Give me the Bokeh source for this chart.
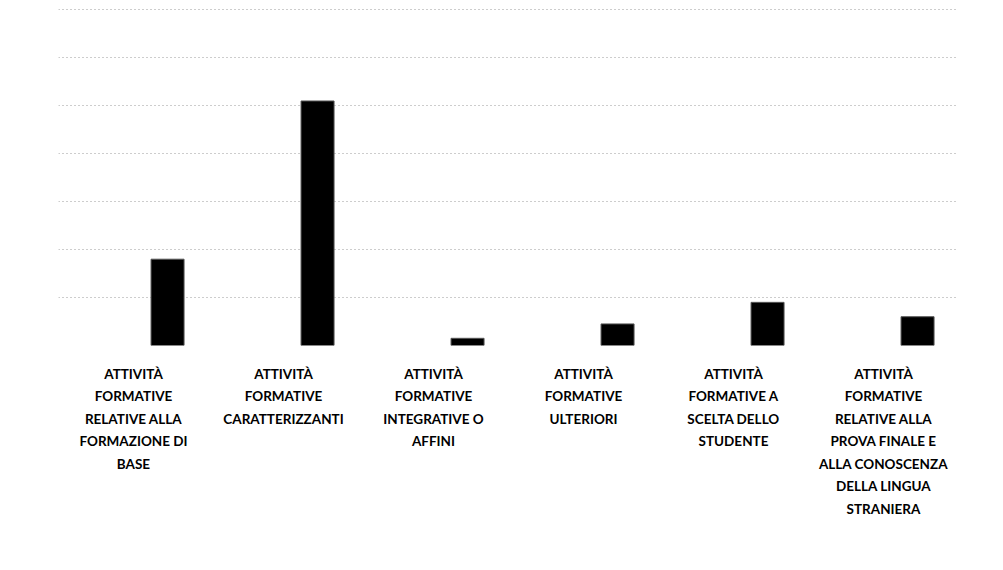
from bokeh.plotting import figure
from bokeh.models import ColumnDataSource, FactorRange, Range1d, SingleIntervalTicker
from bokeh.transform import dodge
from bokeh.embed import file_html
from bokeh.resources import INLINE

categories = [
    "ATTIVITÀ FORMATIVE RELATIVE ALLA FORMAZIONE DI BASE",
    "ATTIVITÀ FORMATIVE CARATTERIZZANTI",
    "ATTIVITÀ FORMATIVE INTEGRATIVE O AFFINI",
    "ATTIVITÀ FORMATIVE ULTERIORI",
    "ATTIVITÀ FORMATIVE A SCELTA DELLO STUDENTE",
    "ATTIVITÀ FORMATIVE RELATIVE ALLA PROVA FINALE E ALLA CONOSCENZA DELLA LINGUA STRANIERA",
]
tick_labels = [
    "ATTIVITÀ\nFORMATIVE\nRELATIVE ALLA\nFORMAZIONE DI\nBASE",
    "ATTIVITÀ\nFORMATIVE\nCARATTERIZZANTI",
    "ATTIVITÀ\nFORMATIVE\nINTEGRATIVE O\nAFFINI",
    "ATTIVITÀ\nFORMATIVE\nULTERIORI",
    "ATTIVITÀ\nFORMATIVE A\nSCELTA DELLO\nSTUDENTE",
    "ATTIVITÀ\nFORMATIVE\nRELATIVE ALLA\nPROVA FINALE E\nALLA CONOSCENZA\nDELLA LINGUA\nSTRANIERA",
]
cfu = [36, 102, 3, 9, 18, 12]

source = ColumnDataSource(dict(cat=tick_labels, name=categories, cfu=cfu))

p = figure(
    width=995, height=560,
    x_range=FactorRange(*tick_labels, range_padding=0),
    y_range=Range1d(0, 141),
    output_backend="svg", toolbar_location=None,
    min_border_left=58, min_border_right=37,
    min_border_top=7, min_border_bottom=215,
)
p.outline_line_color = None
p.background_fill_color = "white"
p.border_fill_color = "white"

p.vbar(x=dodge("cat", 0.227, range=p.x_range), top="cfu", width=0.22,
       source=source, fill_color="black", line_color="#555555", line_width=1)

p.yaxis.visible = False
p.yaxis.ticker = SingleIntervalTicker(interval=20)
p.ygrid.ticker = SingleIntervalTicker(interval=20)
p.ygrid.grid_line_color = "#9a9a9a"
p.ygrid.grid_line_dash = "1 3"
p.ygrid.grid_line_width = 1
p.xgrid.grid_line_color = None

p.xaxis.axis_line_color = None
p.xaxis.major_tick_line_color = None
p.xaxis.minor_tick_line_color = None
p.xaxis.major_label_text_font = "Lato"
p.xaxis.major_label_text_font_style = "bold"
p.xaxis.major_label_text_font_size = "13.5px"
p.xaxis.major_label_text_color = "black"
p.xaxis.major_label_text_line_height = 1.41
p.xaxis.major_label_standoff = 14
p.xaxis.major_label_orientation = "horizontal"

open("out.html", "w").write(file_html(p, INLINE))
